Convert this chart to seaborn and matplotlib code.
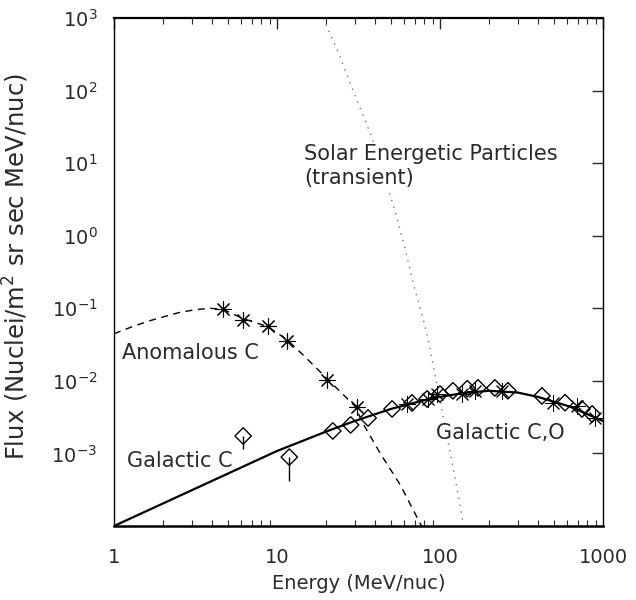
import numpy as np
import pandas as pd
import matplotlib
matplotlib.use("Agg")
import matplotlib.pyplot as plt
import seaborn as sns
from matplotlib.ticker import FixedLocator, NullLocator, LogLocator, FixedFormatter

# ---------------- data ----------------
# Galactic C / C,O model curve (solid)
gal_energy = [1, 10, 20, 30, 50, 90, 140, 200, 300, 400, 630, 900, 1000]
gal_flux = [1e-4, 1.08e-3, 2.0e-3, 2.8e-3, 4.1e-3, 5.8e-3, 6.8e-3, 7.3e-3,
            6.9e-3, 6.0e-3, 4.4e-3, 3.1e-3, 2.8e-3]

# Anomalous C curve (dashed)
acr_energy = [1, 1.3, 1.66, 2.0, 2.54, 3.2, 3.88, 4.64, 6.2, 8.77, 11.5, 15,
              20.2, 30, 34, 43, 57, 77]
acr_flux = [0.0446, 0.056, 0.0674, 0.076, 0.088, 0.096, 0.1, 0.097, 0.072,
            0.056, 0.037, 0.021, 0.0108, 0.0045, 2.5e-3, 1.0e-3, 3.7e-4, 1e-4]

# Solar energetic particles (dotted, transient)
sep_energy = [19.2, 23.7, 30.1, 38.1, 52.9, 61, 70.2, 78.7, 84.4, 115, 129, 138]
sep_flux = [1000, 339, 86, 22.9, 2.23, 0.665, 0.18, 0.0718, 0.038, 1.08e-3,
            2.75e-4, 1.16e-4]

# Anomalous C measurements (asterisks)
acr_pts_energy = [4.64, 6.2, 8.77, 11.5, 20.2, 30.8]
acr_pts_flux = [0.097, 0.070, 0.057, 0.0357, 0.0103, 0.0043]

# Galactic C,O measurements (asterisks)
gco_star_energy = [62.8, 84.4, 95.9, 136, 164, 240, 493, 692, 893]
gco_star_flux = [4.8e-3, 5.6e-3, 6.6e-3, 6.6e-3, 7.3e-3, 7.3e-3, 5.0e-3,
                 4.5e-3, 3.1e-3]

# Galactic C,O measurements (diamonds)
gco_dia_energy = [22, 28.3, 36.2, 50.8, 67.3, 83.3, 100, 120, 147, 171, 217,
                  261, 422, 585, 743, 857]
gco_dia_flux = [2.04e-3, 2.47e-3, 3.08e-3, 4.1e-3, 4.97e-3, 5.64e-3, 6.6e-3,
                7.3e-3, 7.8e-3, 8.0e-3, 8.0e-3, 7.3e-3, 6.2e-3, 5.0e-3,
                4.1e-3, 3.5e-3]

# Galactic C low-energy diamonds with lower error bars
galc_energy = [6.2, 11.9]
galc_flux = [1.74e-3, 8.9e-4]
galc_low = [1.15e-3, 4.2e-4]

x_ticks = [1, 10, 100, 1000]
x_tick_labels = ["1", "10", "100", "1000"]
y_ticks = [1e-3, 1e-2, 1e-1, 1e0, 1e1, 1e2, 1e3]
y_tick_labels = [r"$10^{-3}$", r"$10^{-2}$", r"$10^{-1}$", r"$10^{0}$",
                 r"$10^{1}$", r"$10^{2}$", r"$10^{3}$"]

# ---------------- plot ----------------
sns.set_theme(style="white")
plt.rcParams["font.family"] = ["DejaVu Sans"]
plt.rcParams["mathtext.fontset"] = "dejavusans"

fig = plt.figure(figsize=(6.36, 6.0), dpi=100)
ax = fig.add_axes([114 / 636, 74 / 600, 489 / 636, 508 / 600])

ink = "#2a2a2a"

sns.lineplot(x=gal_energy, y=gal_flux, ax=ax, color="black", lw=1.6,
             estimator=None, sort=False, zorder=3)
sns.lineplot(x=acr_energy, y=acr_flux, ax=ax, color="black", lw=1.0,
             estimator=None, sort=False, zorder=3)
ax.lines[-1].set_dashes((5, 4))
sns.lineplot(x=sep_energy, y=sep_flux, ax=ax, color="#777777", lw=1.0,
             estimator=None, sort=False, zorder=2)
ax.lines[-1].set_dashes((1, 4))

ast = (8, 2, 0)
sns.scatterplot(x=acr_pts_energy, y=acr_pts_flux, ax=ax, marker=ast, s=130,
                color="black", linewidth=0.8, zorder=4)
sns.scatterplot(x=gco_star_energy, y=gco_star_flux, ax=ax, marker=ast, s=130,
                color="black", linewidth=0.7, zorder=4)
sns.scatterplot(x=gco_dia_energy, y=gco_dia_flux, ax=ax, marker="D", s=70,
                facecolor="none", edgecolor="black", linewidth=1.0, zorder=4)
sns.scatterplot(x=galc_energy, y=galc_flux, ax=ax, marker="D", s=70,
                facecolor="none", edgecolor="black", linewidth=1.0, zorder=4)
ax.vlines(galc_energy, galc_low, galc_flux, color="black", lw=1.0, zorder=4)

ax.set_xscale("log")
ax.set_yscale("log")
ax.set_xlim(1, 1000)
ax.set_ylim(1e-4, 1e3)

ax.xaxis.set_major_locator(FixedLocator(x_ticks))
ax.xaxis.set_major_formatter(FixedFormatter(x_tick_labels))
ax.xaxis.set_minor_locator(LogLocator(base=10, subs=np.arange(2, 10)))
ax.yaxis.set_major_locator(FixedLocator(y_ticks))
ax.yaxis.set_major_formatter(FixedFormatter(y_tick_labels))
ax.yaxis.set_minor_locator(NullLocator())

ax.tick_params(which="major", direction="in", length=8, width=1.0,
               top=True, right=True, labelsize=14, colors=ink, pad=12)
ax.tick_params(which="minor", direction="in", length=4, width=0.8,
               top=True, bottom=True, colors=ink)
ax.tick_params(axis="x", which="major", pad=16)

for sp in ax.spines.values():
    sp.set_color("black")
    sp.set_linewidth(1.0)
ax.spines["bottom"].set_linewidth(1.8)
ax.spines["top"].set_linewidth(1.6)

ax.set_xlabel("Energy (MeV/nuc)", fontsize=14, color=ink)
ax.set_ylabel("Flux (Nuclei/m$^2$ sr sec MeV/nuc)", fontsize=17.5, color=ink)
ax.xaxis.set_label_coords(0.5, -0.095)
ax.yaxis.set_label_coords(-0.17, 0.51)

txt = dict(fontsize=15, color=ink, va="center", ha="left")
ax.text(1.12, 0.0244, "Anomalous C", **txt)
ax.text(1.2, 7.9e-4, "Galactic C", **txt)
ax.text(95, 1.9e-3, "Galactic C,O", **txt)
ax.text(14.7, 13.2, "Solar Energetic Particles", zorder=5,
        bbox=dict(facecolor="white", edgecolor="none", pad=1), **txt)
ax.text(14.7, 6.3, "(transient)", zorder=5,
        bbox=dict(facecolor="white", edgecolor="none", pad=1), **txt)

fig.savefig("out.png", dpi=100)
